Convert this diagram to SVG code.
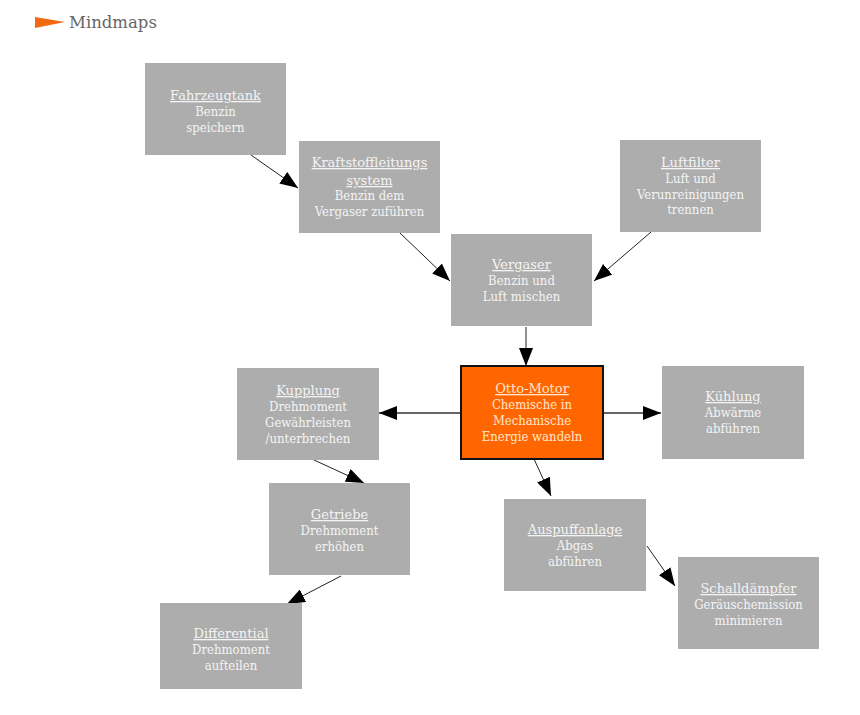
<svg xmlns="http://www.w3.org/2000/svg" width="860" height="715" viewBox="0 0 860 715">
<style>
.box{fill:#adadad;}
.t{font-family:"DejaVu Serif Condensed","DejaVu Serif",serif;font-stretch:condensed;font-size:13px;fill:#f4f4f4;text-anchor:middle;}
.h{font-family:"DejaVu Serif",serif;font-stretch:normal;font-size:13px;text-decoration:underline;}
.ot{fill:#ffe6cc;}
.c{stroke:#222;stroke-width:1;fill:none;marker-end:url(#ah);}
.cg{stroke:#666;stroke-width:2;fill:none;marker-end:url(#ah);}
</style>
<defs>
<marker id="ah" markerUnits="userSpaceOnUse" markerWidth="19" markerHeight="14" refX="18" refY="7" orient="auto" viewBox="0 0 19 14">
<path d="M0,0 L18,7 L0,14 z" fill="#000"/>
</marker>
</defs>
<rect width="860" height="715" fill="#fff"/>
<g id="header">
<path d="M35,17 L65,22 L35,28 z" fill="#f26a10"/>
<text x="69" y="28" font-family="DejaVu Serif,serif" font-size="16.5" fill="#666">Mindmaps</text>
</g>
<g id="connectors">
<line class="c" x1="251" y1="155" x2="298" y2="188"/>
<line class="c" x1="400" y1="233" x2="450" y2="281"/>
<line class="c" x1="651" y1="232" x2="594" y2="281"/>
<line class="c" x1="526" y1="327" x2="526" y2="366"/>
<line class="cg" x1="461" y1="413" x2="379" y2="413"/>
<line class="cg" x1="603" y1="413" x2="661" y2="413"/>
<line class="c" x1="534" y1="459" x2="551" y2="496"/>
<line class="c" x1="314" y1="460" x2="364" y2="483"/>
<line class="c" x1="341" y1="576" x2="287" y2="604"/>
<line class="c" x1="647" y1="546" x2="675" y2="586"/>
</g>
<g id="fahrzeugtank">
<rect class="box" x="145" y="63" width="141" height="92"/>
<text class="t h" x="215.5" y="100">Fahrzeugtank</text>
<text class="t" x="215.5" y="116">Benzin</text>
<text class="t" x="215.5" y="132">speichern</text>
</g>
<g id="kraftstoff">
<rect class="box" x="299" y="141" width="141" height="92"/>
<text class="t h" x="369.5" y="167">Kraftstoffleitungs</text>
<text class="t h" x="369.5" y="185">system</text>
<text class="t" x="369.5" y="200">Benzin dem</text>
<text class="t" x="369.5" y="216">Vergaser zuführen</text>
</g>
<g id="luftfilter">
<rect class="box" x="620" y="140" width="141" height="92"/>
<text class="t h" x="690.5" y="167">Luftfilter</text>
<text class="t" x="690.5" y="183">Luft und</text>
<text class="t" x="690.5" y="199">Verunreinigungen</text>
<text class="t" x="690.5" y="214">trennen</text>
</g>
<g id="vergaser">
<rect class="box" x="451" y="234" width="141" height="92"/>
<text class="t h" x="521.5" y="269">Vergaser</text>
<text class="t" x="521.5" y="285">Benzin und</text>
<text class="t" x="521.5" y="301">Luft mischen</text>
</g>
<g id="otto">
<rect x="461" y="366" width="142" height="93" fill="#ff6600" stroke="#111" stroke-width="2"/>
<text class="t h ot" x="532" y="393">Otto-Motor</text>
<text class="t ot" x="532" y="409">Chemische in</text>
<text class="t ot" x="532" y="425">Mechanische</text>
<text class="t ot" x="532" y="441">Energie wandeln</text>
</g>
<g id="kupplung">
<rect class="box" x="237" y="368" width="142" height="92"/>
<text class="t h" x="308" y="395">Kupplung</text>
<text class="t" x="308" y="411">Drehmoment</text>
<text class="t" x="308" y="427">Gewährleisten</text>
<text class="t" x="308" y="443">/unterbrechen</text>
</g>
<g id="kuehlung">
<rect class="box" x="662" y="366" width="142" height="93"/>
<text class="t h" x="733" y="401">Kühlung</text>
<text class="t" x="733" y="417">Abwärme</text>
<text class="t" x="733" y="433">abführen</text>
</g>
<g id="getriebe">
<rect class="box" x="269" y="483" width="141" height="92"/>
<text class="t h" x="339.5" y="519">Getriebe</text>
<text class="t" x="339.5" y="535">Drehmoment</text>
<text class="t" x="339.5" y="551">erhöhen</text>
</g>
<g id="differential">
<rect class="box" x="160" y="603" width="142" height="86"/>
<text class="t h" x="231" y="638">Differential</text>
<text class="t" x="231" y="654">Drehmoment</text>
<text class="t" x="231" y="670">aufteilen</text>
</g>
<g id="auspuff">
<rect class="box" x="504" y="499" width="142" height="92"/>
<text class="t h" x="575" y="534">Auspuffanlage</text>
<text class="t" x="575" y="550">Abgas</text>
<text class="t" x="575" y="566">abführen</text>
</g>
<g id="schalldaempfer">
<rect class="box" x="678" y="557" width="141" height="92"/>
<text class="t h" x="748.5" y="593">Schalldämpfer</text>
<text class="t" x="748.5" y="609">Geräuschemission</text>
<text class="t" x="748.5" y="625">minimieren</text>
</g>
</svg>
